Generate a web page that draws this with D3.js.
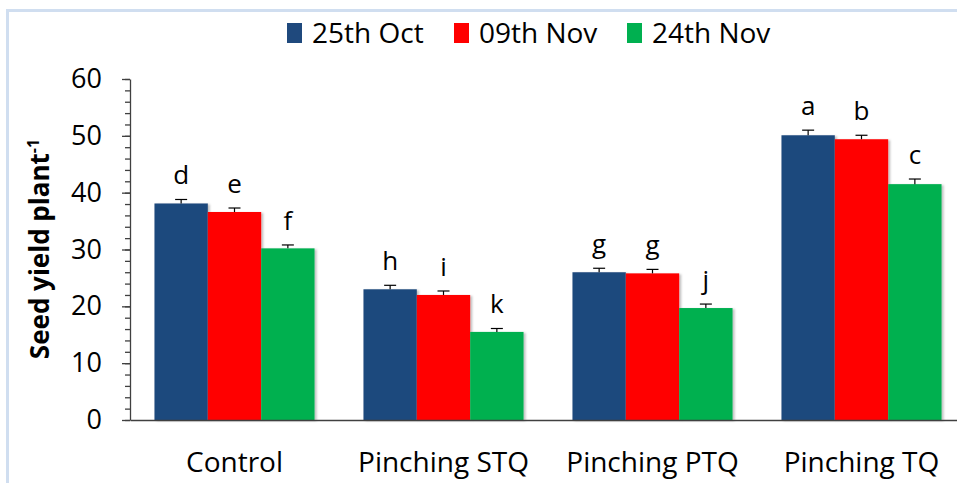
<!DOCTYPE html>
<html lang="en">
<head>
<meta charset="UTF-8">
<title>Seed yield plant-1</title>
<script src="https://d3js.org/d3.v7.min.js"></script>
<style>
  body { margin: 0; background: #fff; }
  text { font-family: "Open Sans", sans-serif; fill: #000; }
</style>
</head>
<body>
<script>
    // Data
    const categories = ["Control", "Pinching STQ", "Pinching PTQ", "Pinching TQ"];
    const seriesNames = ["25th Oct", "09th Nov", "24th Nov"];
    const oct25 = [38.1, 23.0, 26.0, 50.1];
    const nov09 = [36.6, 22.0, 25.8, 49.4];
    const nov24 = [30.2, 15.5, 19.7, 41.5];
    const oct25Err = [0.7, 0.7, 0.7, 0.9];
    const nov09Err = [0.7, 0.7, 0.7, 0.7];
    const nov24Err = [0.6, 0.6, 0.7, 0.9];
    const oct25Letters = ["d", "h", "g", "a"];
    const nov09Letters = ["e", "i", "g", "b"];
    const nov24Letters = ["f", "k", "j", "c"];
    const yTicks = [0, 10, 20, 30, 40, 50, 60];

    const colors = ["#1F497D", "#FF0000", "#00B050"];
    const values = [oct25, nov09, nov24];
    const errors = [oct25Err, nov09Err, nov24Err];
    const letters = [oct25Letters, nov09Letters, nov24Letters];

    const width = 957, height = 483;

    const svg = d3.select("body").append("svg")
        .attr("width", width)
        .attr("height", height);

    // cadre bleu clair
    svg.append("rect")
        .attr("x", 7.5).attr("y", 10.5)
        .attr("width", 1000).attr("height", 600)
        .attr("fill", "none")
        .attr("stroke", "#D0DEF0")
        .attr("stroke-width", 3);

    const defs = svg.append("defs");
    defs.append("filter").attr("id", "shadow")
        .attr("x", "-10%").attr("y", "-10%").attr("width", "130%").attr("height", "120%")
        .append("feDropShadow")
        .attr("dx", 2).attr("dy", 1).attr("stdDeviation", 1.2)
        .attr("flood-color", "#000").attr("flood-opacity", 0.25);

    // Scales
    const x = d3.scaleBand()
        .domain(categories)
        .range([130, 966])
        .paddingInner(0.234)
        .paddingOuter(0.117);

    const xSub = d3.scaleBand()
        .domain(d3.range(seriesNames.length))
        .range([0, x.bandwidth()]);

    const y = d3.scaleLinear()
        .domain([0, 60])
        .range([420, 79]);

    // Bars
    seriesNames.forEach((s, si) => {
        const g = svg.append("g");
        g.selectAll("rect")
            .data(categories)
            .enter().append("rect")
            .attr("x", c => x(c) + xSub(si))
            .attr("y", (c, i) => y(values[si][i]))
            .attr("width", xSub.bandwidth())
            .attr("height", (c, i) => y(0) - y(values[si][i]))
            .attr("fill", colors[si])
            .attr("filter", "url(#shadow)");

        // barres d'erreur
        const eb = g.selectAll(".err")
            .data(categories)
            .enter().append("g")
            .attr("stroke", "#000")
            .attr("stroke-width", 1.2);
        const cx = c => x(c) + xSub(si) + xSub.bandwidth() / 2;
        eb.append("line")
            .attr("x1", cx).attr("x2", cx)
            .attr("y1", (c, i) => y(values[si][i]))
            .attr("y2", (c, i) => y(values[si][i] + errors[si][i]));
        eb.append("line")
            .attr("x1", c => cx(c) - 6).attr("x2", c => cx(c) + 6)
            .attr("y1", (c, i) => y(values[si][i] + errors[si][i]))
            .attr("y2", (c, i) => y(values[si][i] + errors[si][i]));

        // lettres
        g.selectAll(".lbl")
            .data(categories)
            .enter().append("text")
            .attr("x", cx)
            .attr("y", (c, i) => y(values[si][i] + errors[si][i]) - 15)
            .attr("text-anchor", "middle")
            .style("font-size", "26px")
            .text((c, i) => letters[si][i]);
    });

    // Axes
    const yAxis = svg.append("g")
        .attr("transform", "translate(130,0)")
        .call(d3.axisLeft(y).tickValues(yTicks).tickSize(8).tickPadding(20).tickSizeOuter(0));
    yAxis.selectAll("text").style("font-size", "27px").style("font-family", "'Open Sans', sans-serif");

    const yMinor = svg.append("g")
        .attr("transform", "translate(130,0)")
        .call(d3.axisLeft(y).ticks(30).tickSize(5).tickFormat("").tickSizeOuter(0));
    yMinor.select(".domain").remove();

    const xAxis = svg.append("g")
        .attr("transform", "translate(0,420)")
        .call(d3.axisBottom(x).tickSize(0).tickPadding(32).tickSizeOuter(0));
    xAxis.selectAll("text").style("font-size", "28px").style("font-family", "'Open Sans', sans-serif");

    svg.selectAll(".domain, .tick line").attr("stroke", "#404040").attr("stroke-width", 1.3);

    // Titre axe Y
    const yTitle = svg.append("text")
        .attr("transform", "translate(49,249) rotate(-90)")
        .attr("text-anchor", "middle")
        .style("font-size", "26px")
        .style("font-weight", "bold");
    yTitle.append("tspan").text("Seed yield plant");
    yTitle.append("tspan").attr("dy", -10).style("font-size", "16px").text("-1");

    // Légende
    const legendX = [287, 454, 627];
    const legend = svg.append("g");
    seriesNames.forEach((s, i) => {
        legend.append("rect")
            .attr("x", legendX[i]).attr("y", 23)
            .attr("width", 15).attr("height", 20)
            .attr("fill", colors[i]);
        legend.append("text")
            .attr("x", legendX[i] + 25).attr("y", 43)
            .style("font-size", "28px")
            .text(s);
    });
</script>
</body>
</html>
